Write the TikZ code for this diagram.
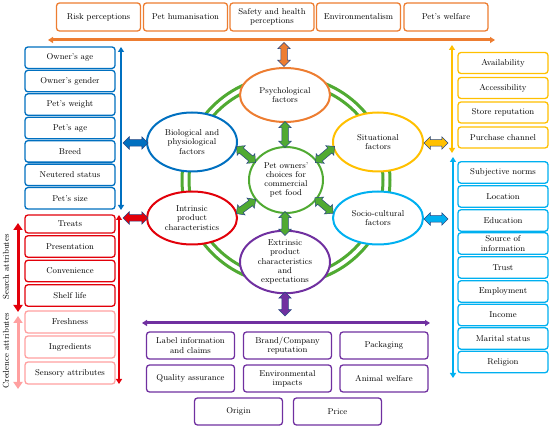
\documentclass[tikz,border=0pt]{standalone}
\usetikzlibrary{shapes.geometric,shapes.arrows,arrows.meta}
\definecolor{cOr}{RGB}{237,125,49}
\definecolor{cBl}{RGB}{0,112,192}
\definecolor{cRd}{RGB}{226,0,10}
\definecolor{cPk}{RGB}{255,160,160}
\definecolor{cYe}{RGB}{255,192,0}
\definecolor{cLb}{RGB}{0,176,240}
\definecolor{cPu}{RGB}{112,48,160}
\definecolor{cGr}{RGB}{80,170,50}
\definecolor{cNv}{RGB}{40,70,130}
\tikzset{
  bx/.style={draw=#1, rounded corners=3pt, line width=1.3pt, fill=white, align=center, inner sep=1pt, text=black},
  elp/.style={ellipse, draw=#1, line width=2pt, fill=white, align=center, inner sep=0pt},
  blk/.style={double arrow, draw=cNv, fill=#1, line width=0.5pt, inner xsep=0pt, inner ysep=3pt, double arrow head extend=3pt, double arrow head indent=0pt, minimum height=24pt},
  barrow/.style={draw=#1, line width=2pt, {Triangle[width=6pt,length=5pt]}-{Triangle[width=6pt,length=5pt]}},
  sarrow/.style={draw=#1, line width=3pt, {Triangle[width=9pt,length=7pt]}-{Triangle[width=9pt,length=7pt]}}
}
\begin{document}
\begin{tikzpicture}[x=1pt,y=-1pt,font=\fontsize{8.5}{9.2}\selectfont]
\useasboundingbox (0,0) rectangle (550,430);

% green ring
\draw[cGr, line width=3pt] (286,180) circle[radius=104];
\draw[cGr, line width=3pt] (286,180) circle[radius=97];

% top row
\begin{scope}[every node/.style={bx=cOr, minimum width=84pt, minimum height=28pt}]
\node (t1) at (98.5,17) {Risk perceptions};
\node (t2) at (185.5,17) {Pet humanisation};
\node (t3) at (272,17) {Safety and health\\perceptions};
\node (t4) at (358.5,17) {Environmentalism};
\node (t5) at (446,17) {Pet’s welfare};
\end{scope}

% left blue column
\begin{scope}[every node/.style={bx=cBl, minimum width=90pt, minimum height=21.5pt}]
\node (b1) at (70,57.7) {Owner’s age};
\node (b2) at (70,81.1) {Owner’s gender};
\node (b3) at (70,104.6) {Pet’s weight};
\node (b4) at (70,128) {Pet’s age};
\node (b5) at (70,151.4) {Breed};
\node (b6) at (70,174.9) {Neutered status};
\node (b7) at (70,198.3) {Pet’s size};
\end{scope}

% left red column
\begin{scope}[every node/.style={bx=cRd, minimum width=90pt, minimum height=21.5pt}]
\node[minimum height=18pt] (r1) at (70,224) {Treats};
\node (r2) at (70,246.5) {Presentation};
\node (r3) at (70,271) {Convenience};
\node (r4) at (70,295.5) {Shelf life};
\end{scope}
\begin{scope}[every node/.style={bx=cPk, minimum width=90pt, minimum height=22pt}]
\node (p1) at (70,322) {Freshness};
\node (p2) at (70,347) {Ingredients};
\node (p3) at (70,373) {Sensory attributes};
\end{scope}

% right yellow column
\begin{scope}[every node/.style={bx=cYe, minimum width=90pt, minimum height=21pt}]
\node (y1) at (503,63) {Availability};
\node (y2) at (503,88) {Accessibility};
\node (y3) at (503,112.5) {Store reputation};
\node (y4) at (503,137.5) {Purchase channel};
\end{scope}

% right light blue column
\begin{scope}[every node/.style={bx=cLb, minimum width=90pt, minimum height=21.5pt}]
\node (l1) at (503,172.5) {Subjective norms};
\node (l2) at (503,196.5) {Location};
\node (l3) at (503,220.5) {Education};
\node (l4) at (503,243.5) {Source of\\information};
\node (l5) at (503,267.5) {Trust};
\node (l6) at (503,291.5) {Employment};
\node (l7) at (503,315) {Income};
\node (l8) at (503,338.5) {Marital status};
\node (l9) at (503,362) {Religion};
\end{scope}

% bottom purple boxes
\begin{scope}[every node/.style={bx=cPu, minimum width=88pt, minimum height=27pt}]
\node (u1) at (190.5,345.5) {Label information\\and claims};
\node (u2) at (287.5,345.5) {Brand/Company\\reputation};
\node (u3) at (384,345.5) {Packaging};
\node (u4) at (190.5,378.5) {Quality assurance};
\node (u5) at (287.5,378.5) {Environmental\\impacts};
\node (u6) at (384,378.5) {Animal welfare};
\node (u7) at (238.5,411.5) {Origin};
\node (u8) at (337.5,411.5) {Price};
\end{scope}

% ellipses
\node[elp=cOr, minimum width=90pt, minimum height=54pt] (psy) at (285,95) {Psychological\\factors};
\node[elp=cBl, minimum width=90pt, minimum height=59pt] (bio) at (192,142) {Biological and\\physiological\\factors};
\node[elp=cYe, minimum width=90pt, minimum height=59pt] (sit) at (378,142) {Situational\\factors};
\node[elp=cGr, minimum width=74pt, minimum height=66pt] (cen) at (286,180) {Pet owners’\\choices for\\commercial\\pet food};
\node[elp=cRd, minimum width=90pt, minimum height=53pt] (int) at (192,218) {Intrinsic\\product\\characteristics};
\node[elp=cLb, minimum width=90pt, minimum height=53pt] (soc) at (378,218) {Socio-cultural\\factors};
\node[elp=cPu, minimum width=90pt, minimum height=57pt] (ext) at (285,262) {Extrinsic\\product\\characteristics\\and\\expectations};

% long arrows
\coordinate (oL) at (48,40); \coordinate (oR) at (495,40);
\draw[barrow=cOr, line width=3pt] (oL) -- (oR);
\coordinate (uL) at (142,323); \coordinate (uR) at (430,323);
\draw[barrow=cPu, line width=3pt] (uL) -- (uR);
\coordinate (bT) at (121,47); \coordinate (bB) at (121,210);
\draw[barrow=cBl, line width=1.6pt] (bT) -- (bB);
\coordinate (rT) at (119,215); \coordinate (rB) at (119,384);
\draw[barrow=cRd, line width=1.6pt] (rT) -- (rB);
\coordinate (yT) at (452,45); \coordinate (yB) at (452,153);
\draw[barrow=cYe, line width=1.6pt] (yT) -- (yB);
\coordinate (lT) at (453,157); \coordinate (lB) at (453,378);
\draw[barrow=cLb, line width=1.6pt] (lT) -- (lB);
\coordinate (sT) at (18,223); \coordinate (sB) at (18,312);
\draw[sarrow=cRd] (sT) -- (sB);
\coordinate (cT) at (18,316); \coordinate (cB) at (18,389);
\draw[sarrow=cPk] (cT) -- (cB);
\node[rotate=90] (stxt) at (6,267) {Search attributes};
\node[rotate=90] (ctxt) at (6,351) {Credence attributes};

% block arrows
\node[blk=cOr, rotate=90] (a0) at (284,54.5) {};
\node[blk=cBl, minimum height=25pt] (a1) at (135.5,143) {};
\node[blk=cRd, minimum height=25pt] (a2) at (135.5,218) {};
\node[blk=cYe] (a3) at (436,143) {};
\node[blk=cLb] (a4) at (436,219) {};
\node[blk=cPu, rotate=90] (a5) at (285,304) {};
\node[blk=cGr, rotate=90, minimum height=26pt] (g1) at (285,134.5) {};
\node[blk=cGr, rotate=-40, minimum height=25pt] (g2) at (246,154.5) {};
\node[blk=cGr, rotate=40, minimum height=25pt] (g3) at (325,154.5) {};
\node[blk=cGr, rotate=36, minimum height=24pt] (g4) at (246,206.5) {};
\node[blk=cGr, rotate=-40, minimum height=24pt] (g5) at (324,205.5) {};
\node[blk=cGr, rotate=90, minimum height=24pt] (g6) at (285,223.5) {};
\end{tikzpicture}
\end{document}
